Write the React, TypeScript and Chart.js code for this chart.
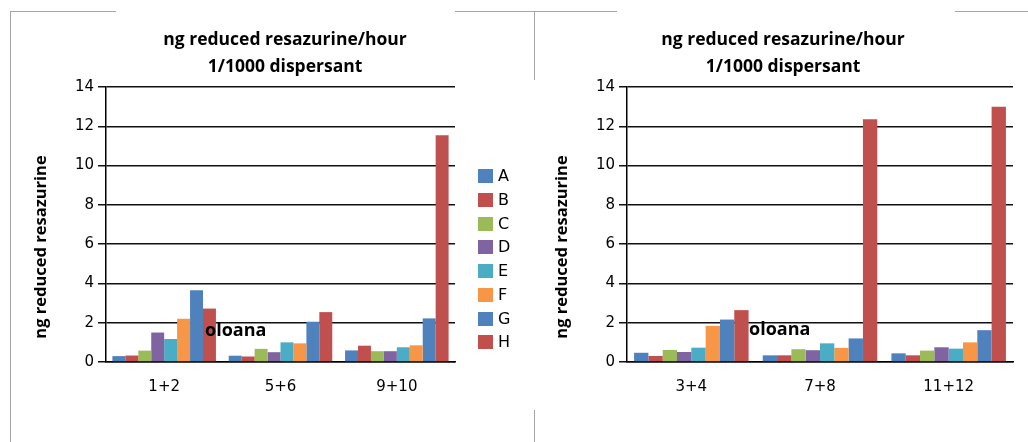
import React, { useEffect, useRef } from 'react';
import { Chart, registerables } from 'chart.js';

Chart.register(...registerables);

// ---------- data ----------
const seriesNames = ['A', 'B', 'C', 'D', 'E', 'F', 'G', 'H'];
const seriesColors = ['#4F81BD', '#C0504D', '#9BBB59', '#8064A2', '#4BACC6', '#F79646', '#4F81BD', '#C0504D'];

const leftCategories = ['1+2', '5+6', '9+10'];
const left_1_2 = [0.30, 0.33, 0.58, 1.50, 1.17, 2.20, 3.65, 2.72];
const left_5_6 = [0.32, 0.28, 0.67, 0.50, 1.00, 0.95, 2.05, 2.54];
const left_9_10 = [0.59, 0.83, 0.55, 0.55, 0.75, 0.85, 2.22, 11.55];

const rightCategories = ['3+4', '7+8', '11+12'];
const right_3_4 = [0.47, 0.31, 0.61, 0.51, 0.73, 1.84, 2.16, 2.64];
const right_7_8 = [0.34, 0.34, 0.65, 0.60, 0.95, 0.72, 1.20, 12.36];
const right_11_12 = [0.44, 0.34, 0.58, 0.75, 0.68, 1.00, 1.62, 13.00];

const yTickMin = 0;
const yTickMax = 14;
const yTickStep = 2;

const titleLines = ['ng reduced resazurine/hour', '1/1000 dispersant'];
const yAxisTitle = 'ng reduced resazurine';
const annotationText = 'oloana';

// ---------- styling ----------
const TICK_FONT = { family: '"DejaVu Sans", sans-serif', size: 15 };
const BOLD_FAMILY = '"Open Sans", sans-serif';

type ChartSpec = {
  categories: string[];
  groups: number[][];
  canvasLeft: number;
  width: number;
  height: number;
  padLeft: number;
  padRight: number;
  titleX: number;
  yTitleX: number;
  yTitleY: number;
  noteX: number;
  noteY: number;
  legend: boolean;
};

function BarChart({ spec }: { spec: ChartSpec }) {
  const ref = useRef<HTMLCanvasElement | null>(null);
  useEffect(() => {
    if (!ref.current) return;
    const datasets = seriesNames.map((name, i) => ({
      label: name,
      data: spec.groups.map((g) => g[i]),
      backgroundColor: seriesColors[i],
      borderWidth: 0,
      barPercentage: 1,
      categoryPercentage: 0.89,
    }));

    const decor = {
      id: 'decor',
      afterDatasetsDraw(chart: any) {
        const ctx = chart.ctx;
        ctx.save();
        ctx.fillStyle = '#000';
        ctx.font = `bold 18px ${BOLD_FAMILY}`;
        ctx.textAlign = 'left';
        ctx.textBaseline = 'alphabetic';
        ctx.fillText(annotationText, spec.noteX, spec.noteY);
        ctx.restore();
      },
      afterDraw(chart: any) {
        const ctx = chart.ctx;
        ctx.save();
        ctx.fillStyle = '#000';
        // titles
        ctx.font = `bold 17.5px ${BOLD_FAMILY}`;
        ctx.textAlign = 'center';
        ctx.textBaseline = 'alphabetic';
        ctx.fillText(titleLines[0], spec.titleX, 45);
        ctx.fillText(titleLines[1], spec.titleX, 72);
        // y axis title
        ctx.save();
        ctx.translate(spec.yTitleX, spec.yTitleY);
        ctx.rotate(-Math.PI / 2);
        ctx.font = `bold 16.5px ${BOLD_FAMILY}`;
        ctx.textAlign = 'center';
        ctx.textBaseline = 'alphabetic';
        ctx.fillText(yAxisTitle, 0, 0);
        ctx.restore();
        // legend
        if (spec.legend) {
          const ds = chart.data.datasets;
          ctx.font = '16px "DejaVu Sans", sans-serif';
          ctx.textAlign = 'left';
          ctx.textBaseline = 'middle';
          for (let i = 0; i < ds.length; i++) {
            const cy = 176 + i * 23.76;
            ctx.fillStyle = ds[i].backgroundColor;
            ctx.fillRect(478, Math.round(cy - 7), 15, 14);
            ctx.fillStyle = '#000';
            ctx.fillText(ds[i].label, 498, cy + 1);
          }
        }
        ctx.restore();
      },
    };

    const chart = new Chart(ref.current, {
      type: 'bar',
      data: { labels: spec.categories, datasets },
      options: {
        responsive: false,
        animation: false,
        devicePixelRatio: 1,
        layout: { padding: { left: spec.padLeft, right: spec.padRight, top: 87, bottom: 40 } },
        plugins: {
          legend: { display: false },
          title: { display: false },
          tooltip: { enabled: false },
        },
        scales: {
          x: {
            grid: { display: false, drawTicks: false },
            border: { display: true, color: '#000', width: 1.5 },
            ticks: { color: '#000', font: TICK_FONT, padding: 16 },
            afterFit: (s: any) => {
              s.height = 40;
            },
          },
          y: {
            min: yTickMin,
            max: yTickMax,
            ticks: { stepSize: yTickStep, color: '#000', font: TICK_FONT, padding: 4 },
            grid: { color: '#111', lineWidth: 1.5, tickLength: 8, drawTicks: true },
            border: { display: true, color: '#000', width: 1.5 },
            afterFit: (s: any) => {
              s.width = 40;
            },
          },
        },
      },
      plugins: [decor],
    } as any);
    return () => chart.destroy();
  }, [spec]);

  return (
    <canvas
      ref={ref}
      width={spec.width}
      height={spec.height}
      style={{ position: 'absolute', left: spec.canvasLeft, top: 0, width: spec.width, height: spec.height, display: 'block' }}
    />
  );
}

const leftSpec: ChartSpec = {
  categories: leftCategories,
  groups: [left_1_2, left_5_6, left_9_10],
  canvasLeft: 0,
  width: 520,
  height: 442,
  padLeft: 66,
  padRight: 65,
  titleX: 285,
  yTitleX: 46,
  yTitleY: 247,
  noteX: 205,
  noteY: 336,
  legend: true,
};

const rightSpec: ChartSpec = {
  categories: rightCategories,
  groups: [right_3_4, right_7_8, right_11_12],
  canvasLeft: 520,
  width: 508,
  height: 442,
  padLeft: 67,
  padRight: 15,
  titleX: 263,
  yTitleX: 47,
  yTitleY: 247,
  noteX: 229,
  noteY: 335,
  legend: false,
};

const LINE = '#a6a6a6';
function Seg({ x, y, w, h }: { x: number; y: number; w: number; h: number }) {
  return <div style={{ position: 'absolute', left: x, top: y, width: w, height: h, background: LINE }} />;
}

export default function App() {
  return (
    <div style={{ position: 'absolute', left: 0, top: 0, width: 1028, height: 442, background: '#fff', overflow: 'hidden' }}>
      <BarChart spec={leftSpec} />
      <BarChart spec={rightSpec} />
      <Seg x={10} y={11} w={1} h={431} />
      <Seg x={10} y={11} w={106} h={1} />
      <Seg x={455} y={11} w={162} h={1} />
      <Seg x={955} y={11} w={73} h={1} />
      <Seg x={534} y={11} w={1} h={69} />
      <Seg x={534} y={410} w={1} h={32} />
    </div>
  );
}
